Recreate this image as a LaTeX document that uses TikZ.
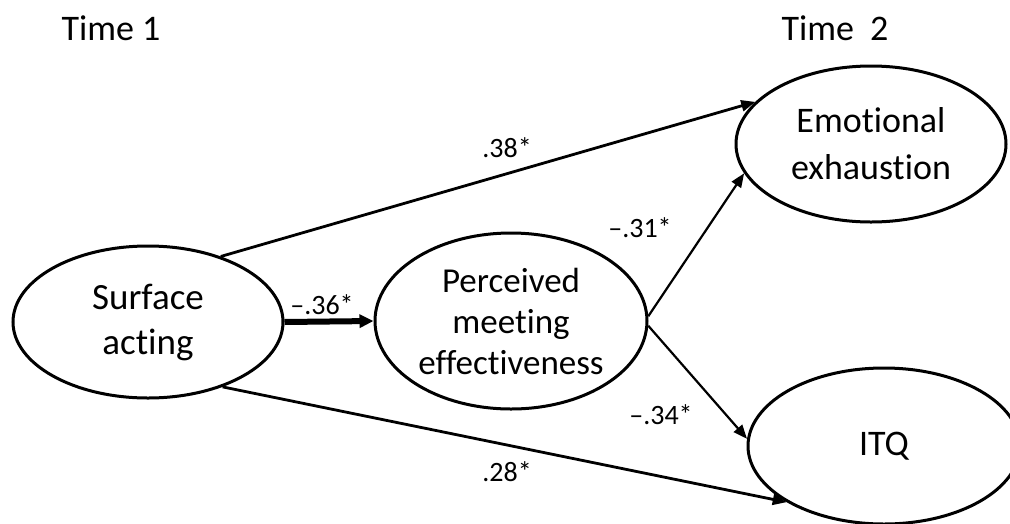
\documentclass[tikz,border=0pt]{standalone}
\usepackage{fontspec}
\setmainfont[Ligatures=NoCommon]{Carlito}
\usetikzlibrary{shapes.geometric,arrows.meta}
\begin{document}
\begin{tikzpicture}[x=1pt,y=-1pt,
  latent/.style={ellipse,draw,line width=3pt,inner sep=0pt,align=center},
  pathline/.style={line width=2.8pt,-{Triangle[length=14pt,width=11pt]}},
  thinpath/.style={line width=2.2pt,-{Triangle[length=14pt,width=11pt]}},
  coef/.style={font=\fontsize{28}{30}\selectfont,inner sep=0pt},
  timelbl/.style={font=\fontsize{36}{40}\selectfont,inner sep=0pt}]
\useasboundingbox (0,0) rectangle (1010,523);
\clip (0,0) rectangle (1010,523);

\node[timelbl] (t1) at (111,28) {Time 1};
\node[timelbl] (t2) at (835,28) {Time\ \ 2};

\node[latent,minimum width=270pt,minimum height=152pt,font=\fontsize{37}{45}\selectfont] (sa) at (148,322) {Surface\\acting};
\node[latent,minimum width=272pt,minimum height=176pt,font=\fontsize{35}{41}\selectfont] (pme) at (511,321) {Perceived\\meeting\\effectiveness};
\node[latent,minimum width=270pt,minimum height=156pt,font=\fontsize{36}{47}\selectfont] (ee) at (871,144) {Emotional\\exhaustion};
\node[latent,minimum width=272pt,minimum height=156pt,font=\fontsize{36}{45}\selectfont] (itq) at (884,446) {ITQ};

\draw[pathline] (sa.42) -- (ee.160.6);
\draw[pathline] (sa.-41.5) -- (itq.-150.8);
\draw[line width=6pt,-{Triangle[length=14pt,width=13pt]}] (sa.east) -- (pme.west);
\draw[thinpath] (pme.2) -- (ee.193.8);
\draw[thinpath] (pme.-2) -- (itq.177.5);

\node[coef] (c1) at (507,148) {.38*};
\node[coef] (c2) at (640,228) {\textendash.31*};
\node[coef] (c3) at (322,305) {\textendash.36*};
\node[coef] (c4) at (661,415) {\textendash.34*};
\node[coef] (c5) at (507,472) {.28*};
\end{tikzpicture}
\end{document}
